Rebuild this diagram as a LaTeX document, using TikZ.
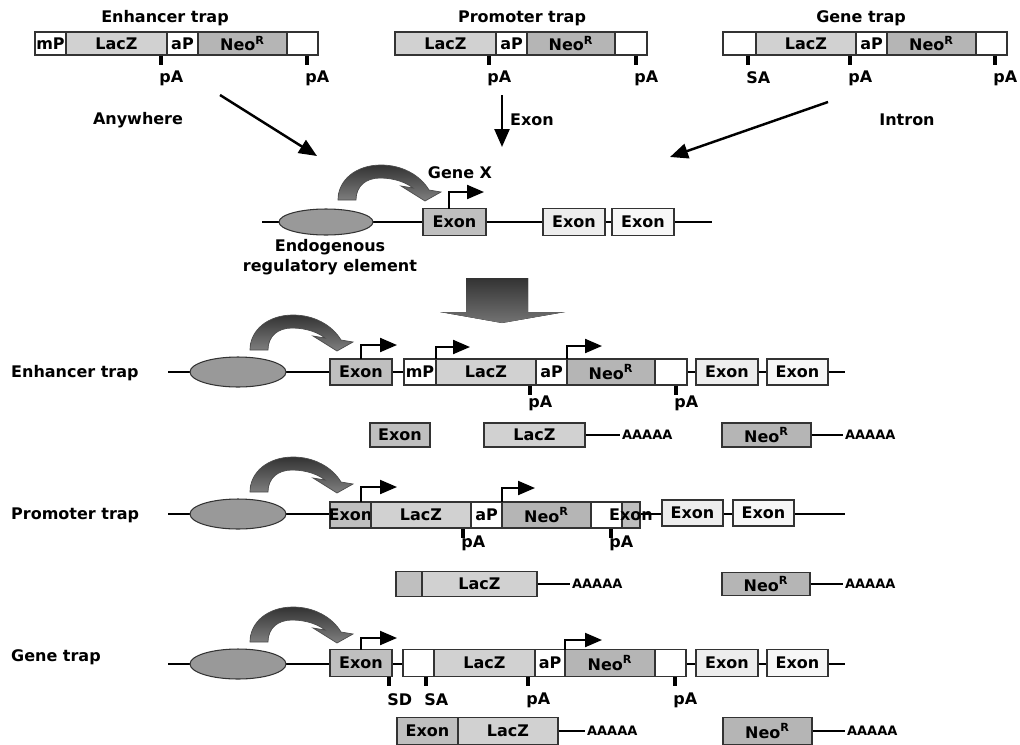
\documentclass[tikz,border=0pt]{standalone}
\usepackage{fontspec}
\setmainfont{DejaVu Sans}
\usetikzlibrary{arrows.meta,shapes.geometric}

\definecolor{exongray}{gray}{0.75}
\definecolor{laczgray}{gray}{0.82}
\definecolor{neogray}{gray}{0.71}
\definecolor{exonlight}{gray}{0.93}
\definecolor{exonwhite}{gray}{0.97}
\definecolor{blobgray}{gray}{0.60}

\newcommand\figfont{\bfseries\fontsize{9.1}{11.4}\selectfont}
\newcommand\polyfont{\bfseries\fontsize{7.4}{9}\selectfont}
% box of a construct: name, x from, x to, y centre, half height, fill, text
\newcommand\seg[7]{\node[segbox, fill=#6, minimum width={(#3-#2)*0.02cm}, minimum height={2*#5*0.02cm}] (#1) at ({(#2+#3)/2},#4) {#7};}
% site mark under a box: name, x, box bottom, label y, text
\newcommand\cutsite[5]{\draw[tickline] (#2,#3+1) -- (#2,#3+10);
	\node[anchor=west, inner sep=0pt] (#1) at (#2-2,#4) {#5};}
% bent promoter arrow: x, box top, arrow height, x end
\newcommand\prom[4]{\draw[promline] (#1,#2) |- (#4,#3);}
% curved enhancer arrow, from its left foot
\newcommand\swoop[1]{\begin{scope}[shift={(#1)}]
	\draw[swoopfill] (0,0) -- (18,0) .. controls (18,-14) and (28,-22) .. (42,-22)
	.. controls (57,-22) and (69,-17) .. (75,-12) -- (63,-14) -- (87,1) -- (103,-8) -- (91,-10)
	.. controls (82,-25) and (64,-35) .. (43,-35) .. controls (18,-35) and (0,-20) .. (0,0) -- cycle;
	\end{scope}}

\begin{document}
\begin{tikzpicture}[x=0.02cm, y=-0.02cm,
	every node/.style={font=\figfont},
	dna/.style={line width=1.5pt},
	segbox/.style={draw=black!80, line width=0.6pt, inner sep=0pt},
	blob/.style={ellipse, draw=black!80, fill=blobgray, line width=0.6pt, inner sep=0pt},
	promline/.style={line width=1.2pt, -{Triangle[length=0.34cm, width=0.28cm]}},
	bigarrow/.style={line width=1.4pt, -{Triangle[length=0.36cm, width=0.3cm]}},
	tickline/.style={line width=1.8pt},
	swoopfill/.style={draw=black!70, line width=0.4pt, top color=black!80, bottom color=black!50},
	polyA/.style={font=\polyfont, anchor=west, inner sep=1pt}]

	\useasboundingbox (0,0) rectangle (1020,744);
	\clip (0,0) rectangle (1020,744);

	%%% the three vectors
	\node (etitle) at (165,18) {Enhancer trap};
	\seg{emP}{35}{66}{43.5}{11.5}{white}{mP}
	\seg{eLac}{66}{167}{43.5}{11.5}{laczgray}{LacZ}
	\seg{eaP}{167}{198}{43.5}{11.5}{white}{aP}
	\seg{eNeo}{198}{287}{43.5}{11.5}{neogray}{Neo\textsuperscript{R}}
	\seg{eEnd}{287}{318}{43.5}{11.5}{white}{}
	\cutsite{epA}{161}{55}{78}{pA}
	\cutsite{epB}{307}{55}{78}{pA}

	\node (ptitle) at (522,18) {Promoter trap};
	\seg{pLac}{395}{496}{43.5}{11.5}{laczgray}{LacZ}
	\seg{paP}{496}{527}{43.5}{11.5}{white}{aP}
	\seg{pNeo}{527}{615}{43.5}{11.5}{neogray}{Neo\textsuperscript{R}}
	\seg{pEnd}{615}{647}{43.5}{11.5}{white}{}
	\cutsite{ppA}{489}{55}{78}{pA}
	\cutsite{ppB}{636}{55}{78}{pA}

	\node (gtitle) at (861,18) {Gene trap};
	\seg{gStart}{723}{756}{43.5}{11.5}{white}{}
	\seg{gLac}{756}{856}{43.5}{11.5}{laczgray}{LacZ}
	\seg{gaP}{856}{887}{43.5}{11.5}{white}{aP}
	\seg{gNeo}{887}{976}{43.5}{11.5}{neogray}{Neo\textsuperscript{R}}
	\seg{gEnd}{976}{1007}{43.5}{11.5}{white}{}
	\cutsite{gSA}{748}{55}{78}{SA}
	\cutsite{gpA}{850}{55}{78}{pA}
	\cutsite{gpB}{995}{55}{78}{pA}

	%%% where they go
	\coordinate (anyFrom) at (220,95);
	\coordinate (anyTo) at (317,156);
	\draw[bigarrow] (anyFrom) -- (anyTo);
	\node (anywhere) at (138,120) {Anywhere};
	\coordinate (exFrom) at (502,95);
	\coordinate (exTo) at (502,147);
	\draw[bigarrow] (exFrom) -- (exTo);
	\node (exonlbl) at (532,120) {Exon};
	\coordinate (inFrom) at (828,102);
	\coordinate (inTo) at (670,157);
	\draw[bigarrow] (inFrom) -- (inTo);
	\node (intron) at (907,120) {Intron};

	%%% gene X
	\draw[dna] (262,222) -- (712,222);
	\node[blob, minimum width=1.88cm, minimum height=0.52cm] (gxEnh) at (326,222) {};
	\swoop{338,200}
	\seg{gxEx}{423}{486}{222}{13.5}{exongray}{Exon}
	\seg{gxExB}{543}{605}{222}{13.5}{exonlight}{Exon}
	\seg{gxExC}{612}{674}{222}{13.5}{exonwhite}{Exon}
	\prom{449}{208.5}{192}{484}
	\node (genex) at (460,173) {Gene X};
	\node[align=center] (enhlbl) at (330,257) {Endogenous\\regulatory element};

	%%% big arrow down
	\fill[top color=black!80, bottom color=black!55] (466,278) -- (528,278) -- (528,312) -- (565,312)
		-- (502,323) -- (440,312) -- (466,312) -- cycle;

	%%% enhancer trap insertion
	\node[anchor=west] (rowe) at (5,373) {Enhancer trap};
	\draw[dna] (168,372) -- (845,372);
	\node[blob, minimum width=1.92cm, minimum height=0.6cm] (r1Enh) at (238,372) {};
	\swoop{250,350}
	\seg{r1Ex}{330}{392}{372}{13}{exongray}{Exon}
	\seg{r1mP}{404}{436}{372}{13}{white}{mP}
	\seg{r1Lac}{436}{536}{372}{13}{laczgray}{LacZ}
	\seg{r1aP}{536}{567}{372}{13}{white}{aP}
	\seg{r1Neo}{567}{655}{372}{13}{neogray}{Neo\textsuperscript{R}}
	\seg{r1End}{655}{687}{372}{13}{white}{}
	\seg{r1ExB}{696}{758}{372}{13}{exonlight}{Exon}
	\seg{r1ExC}{767}{828}{372}{13}{exonwhite}{Exon}
	\prom{361}{359}{345}{397}
	\prom{436}{359}{347}{470}
	\prom{567}{359}{346}{602}
	\cutsite{r1pA}{530}{385}{403}{pA}
	\cutsite{r1pB}{676}{385}{403}{pA}

	\seg{t1Ex}{370}{430}{435}{12}{exongray}{Exon}
	\seg{t1Lac}{484}{585}{435}{12}{laczgray}{LacZ}
	\node[polyA] (t1A) at (620,435) {AAAAA};
	\draw[dna] (t1Lac.east) -- (t1A.west);
	\seg{t1Neo}{722}{811}{435}{12}{neogray}{Neo\textsuperscript{R}}
	\node[polyA] (t1B) at (843,435) {AAAAA};
	\draw[dna] (t1Neo.east) -- (t1B.west);

	%%% promoter trap insertion
	\node[anchor=west] (rowp) at (5,515) {Promoter trap};
	\draw[dna] (168,514) -- (845,514);
	\node[blob, minimum width=1.92cm, minimum height=0.6cm] (r2Enh) at (238,514) {};
	\swoop{250,492}
	\seg{r2Ex}{330}{371}{515}{13}{exongray}{\makebox[0pt]{Exon}}
	\seg{r2Lac}{371}{471}{515}{13}{laczgray}{LacZ}
	\seg{r2aP}{471}{502}{515}{13}{white}{aP}
	\seg{r2Neo}{502}{591}{515}{13}{neogray}{Neo\textsuperscript{R}}
	\seg{r2End}{591}{622}{515}{13}{white}{}
	\seg{r2Cut}{622}{640}{515}{13}{exongray}{}
	\node (r2CutTxt) at (631,515) {Exon};
	\seg{r2ExB}{662}{723}{513}{13}{exonlight}{Exon}
	\seg{r2ExC}{733}{794}{513}{13}{exonwhite}{Exon}
	\prom{361}{502}{487}{397}
	\prom{502}{502}{488}{535}
	\cutsite{r2pA}{463}{528}{543}{pA}
	\cutsite{r2pB}{611}{528}{543}{pA}

	\seg{t2Ex}{396}{422}{584}{12.5}{exongray}{}
	\seg{t2Lac}{422}{537}{584}{12.5}{laczgray}{LacZ}
	\node[polyA] (t2A) at (570,584) {AAAAA};
	\draw[dna] (t2Lac.east) -- (t2A.west);
	\seg{t2Neo}{722}{810}{584}{11.5}{neogray}{Neo\textsuperscript{R}}
	\node[polyA] (t2B) at (843,584) {AAAAA};
	\draw[dna] (t2Neo.east) -- (t2B.west);

	%%% gene trap insertion
	\node[anchor=west] (rowg) at (5,657) {Gene trap};
	\draw[dna] (168,664) -- (845,664);
	\node[blob, minimum width=1.92cm, minimum height=0.6cm] (r3Enh) at (238,664) {};
	\swoop{250,642}
	\seg{r3Ex}{330}{392}{663}{13.5}{exongray}{Exon}
	\seg{r3Start}{403}{434}{663}{13.5}{white}{}
	\seg{r3Lac}{434}{535}{663}{13.5}{laczgray}{LacZ}
	\seg{r3aP}{535}{565}{663}{13.5}{white}{aP}
	\seg{r3Neo}{565}{655}{663}{13.5}{neogray}{Neo\textsuperscript{R}}
	\seg{r3End}{655}{686}{663}{13.5}{white}{}
	\seg{r3ExB}{696}{758}{663}{13.5}{exonlight}{Exon}
	\seg{r3ExC}{767}{828}{663}{13.5}{exonwhite}{Exon}
	\prom{361}{649.5}{638}{397}
	\prom{565}{649.5}{640}{602}
	\cutsite{r3SD}{389}{676}{700}{SD}
	\cutsite{r3SA}{426}{676}{700}{SA}
	\cutsite{r3pA}{528}{676}{700}{pA}
	\cutsite{r3pB}{675}{676}{700}{pA}

	\seg{t3Ex}{397}{458}{731}{13.5}{exongray}{Exon}
	\seg{t3Lac}{458}{558}{731}{13.5}{laczgray}{LacZ}
	\node[polyA] (t3A) at (585,731) {AAAAA};
	\draw[dna] (t3Lac.east) -- (t3A.west);
	\seg{t3Neo}{723}{812}{731}{13.5}{neogray}{Neo\textsuperscript{R}}
	\node[polyA] (t3B) at (845,731) {AAAAA};
	\draw[dna] (t3Neo.east) -- (t3B.west);
\end{tikzpicture}
\end{document}
